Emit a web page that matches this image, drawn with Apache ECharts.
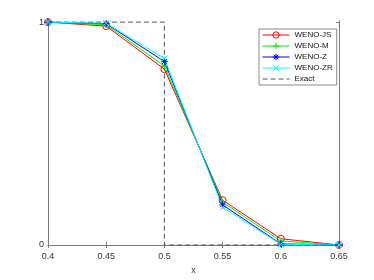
<!DOCTYPE html>
<html><head><meta charset="utf-8">
<script src="https://cdn.jsdelivr.net/npm/echarts@6/dist/echarts.min.js"></script>
<style>html,body{margin:0;padding:0;background:#fff}#c{width:374px;height:280px}</style>
</head><body><div id="c"></div>
<script>
const xValues = [0.4, 0.45, 0.5, 0.55, 0.6, 0.65];
const wenoJS = [1, 0.982, 0.789, 0.201, 0.028, 0.0];
const wenoM = [1, 0.988, 0.803, 0.192, 0.018, 0.0];
const wenoZ = [1, 0.993, 0.823, 0.180, 0.005, 0.0];
const wenoZR = [1, 0.995, 0.837, 0.169, 0.003, 0.0];
const exactX = [0.4, 0.5, 0.5, 0.65];
const exactY = [1, 1, 0, 0];
const xTicks = [0.4, 0.45, 0.5, 0.55, 0.6, 0.65];
const yTicks = [0, 1];

const FONT = 'Liberation Sans, Arial, sans-serif';
const AX = '#7a7a7a';
const pair = (xs, ys) => xs.map((x, i) => [x, ys[i]]);

const circlePath = 'path://M10,5 A5,5 0 1,1 0,5 A5,5 0 1,1 10,5 Z';
const plusPath = 'path://M0,5 L10,5 M5,0 L5,10';
const crossPath = 'path://M1,1 L9,9 M9,1 L1,9';
const starPath = 'path://M0,5 L10,5 M5,0 L5,10 M1.5,1.5 L8.5,8.5 M8.5,1.5 L1.5,8.5';

const styles = {
  'WENO-JS': { color: '#ff0000', symbol: circlePath, size: 7, fill: 'rgba(255,255,255,0)' },
  'WENO-M': { color: '#00ee00', symbol: plusPath, size: 7, fill: 'rgba(0,0,0,0)' },
  'WENO-Z': { color: '#0000ff', symbol: starPath, size: 7, fill: 'rgba(0,0,0,0)' },
  'WENO-ZR': { color: '#00ffff', symbol: crossPath, size: 6, fill: 'rgba(0,0,0,0)' }
};
function itemSt(name) {
  const s = styles[name];
  return { color: s.fill, borderColor: s.color, borderWidth: 1 };
}
function mk(name, ys) {
  const s = styles[name];
  return {
    name, type: 'line', data: pair(xValues, ys), symbol: s.symbol, symbolSize: s.size,
    showAllSymbol: true,
    lineStyle: { color: s.color, width: 1, type: 'solid' },
    itemStyle: itemSt(name),
    emphasis: { disabled: true }, z: 3
  };
}
function legItem(name) {
  const s = styles[name];
  return { name, itemStyle: itemSt(name),
    lineStyle: { color: s.color, width: 1, type: 'solid', opacity: 1 } };
}

const chart = echarts.init(document.getElementById('c'), null, { renderer: 'canvas' });
chart.setOption({
  animation: false,
  grid: { left: 48, right: 35, top: 21, bottom: 32, containLabel: false },
  legend: {
    left: 259, top: 29, orient: 'vertical', itemWidth: 27, itemHeight: 8, itemGap: 3,
    padding: [2, 4, 2, 3], borderColor: '#8a8a8a', borderWidth: 1, backgroundColor: '#fff',
    textStyle: { fontFamily: FONT, fontSize: 8, color: '#111', lineHeight: 8 },
    lineStyle: { width: 1 },
    data: [legItem('WENO-JS'), legItem('WENO-M'), legItem('WENO-Z'), legItem('WENO-ZR'),
      { name: 'Exact', itemStyle: { color: 'rgba(0,0,0,0)', borderWidth: 0, opacity: 0 },
        lineStyle: { color: '#555', width: 1, type: [5, 3], opacity: 1 } }]
  },
  xAxis: [
    { type: 'value', min: 0.4, max: 0.65, position: 'bottom', name: 'x', nameLocation: 'middle', nameGap: 19,
      nameTextStyle: { fontFamily: FONT, fontSize: 9, color: '#333' },
      axisLine: { show: true, lineStyle: { color: AX, width: 1 } },
      axisTick: { show: true, inside: true, length: 3, customValues: xTicks, lineStyle: { color: AX } },
      axisLabel: { customValues: xTicks, fontFamily: FONT, fontSize: 9, color: '#333', margin: 6,
        formatter: v => String(parseFloat(v.toFixed(2))) },
      splitLine: { show: false } },
    { type: 'value', min: 0.4, max: 0.65, position: 'top',
      axisLine: { show: true, lineStyle: { color: AX, width: 1 } },
      axisTick: { show: true, inside: true, length: 3, customValues: xTicks, lineStyle: { color: AX } },
      axisLabel: { show: false }, splitLine: { show: false } }
  ],
  yAxis: [
    { type: 'value', min: -0.005, max: 1.005, position: 'left',
      axisLine: { show: true, lineStyle: { color: AX, width: 1 } },
      axisTick: { show: true, inside: true, length: 3, customValues: yTicks, lineStyle: { color: AX } },
      axisLabel: { customValues: yTicks, fontFamily: FONT, fontSize: 9, color: '#333', margin: 4 },
      splitLine: { show: false } },
    { type: 'value', min: -0.005, max: 1.005, position: 'right',
      axisLine: { show: true, lineStyle: { color: AX, width: 1 } },
      axisTick: { show: true, inside: true, length: 3, customValues: yTicks, lineStyle: { color: AX } },
      axisLabel: { show: false }, splitLine: { show: false } }
  ],
  series: [
    mk('WENO-JS', wenoJS),
    mk('WENO-M', wenoM),
    mk('WENO-Z', wenoZ),
    mk('WENO-ZR', wenoZR),
    { name: 'Exact', type: 'line', data: pair(exactX, exactY), symbol: 'none',
      lineStyle: { color: '#555', width: 1, type: [5, 3] }, itemStyle: { color: '#555' },
      emphasis: { disabled: true }, z: 2 }
  ]
});
</script></body></html>
